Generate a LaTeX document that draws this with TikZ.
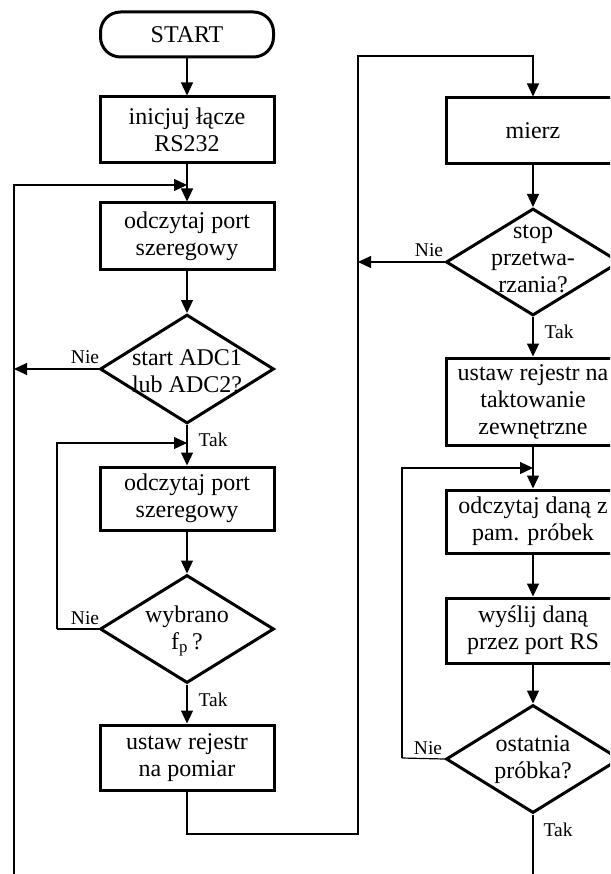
\documentclass[tikz,border=0pt]{standalone}
\usepackage{fontspec}
\setmainfont{Liberation Serif}
\usetikzlibrary{shapes.geometric,arrows.meta}
\begin{document}
\begin{tikzpicture}[x=1pt,y=-1pt,
  txt/.style={font=\fontsize{24}{27}\selectfont},
  box/.style={txt, draw, line width=3pt, minimum width=174pt, inner sep=0pt, align=center},
  term/.style={box, rounded corners=20pt, minimum width=173pt},
  dec/.style={draw, diamond, line width=3pt, minimum width=174pt, minimum height=108pt, inner sep=0pt},
  dtext/.style={txt, align=center, inner sep=0pt},
  conn/.style={line width=1.2pt},
  arr/.style={conn, -{Triangle[length=13pt,width=12pt]}},
  lab/.style={font=\fontsize{19.5}{21}\selectfont, inner sep=0pt}
]
\useasboundingbox (0,0) rectangle (610,874);
\clip (0,0) rectangle (610,874);
\fill[white] (0,0) rectangle (610,874);

% left column
\node[term, minimum height=45pt] (start) at (187,34.5) {START};
\node[box, minimum height=66pt] (init) at (187,130) {inicjuj łącze\\RS232};
\node[box, minimum height=67pt] (read1) at (187,236.5) {odczytaj port\\szeregowy};
\node[dec, minimum height=109pt] (d1) at (187,369) {};
\node[dtext] (d1t) at (187,371) {start ADC1\\lub ADC2?};
\node[box, minimum height=63pt] (read2) at (187,498.5) {odczytaj port\\szeregowy};
\node[dec] (d2) at (187,629) {};
\node[dtext] (d2t) at (187,631) {wybrano\\f\textsubscript{p}\,?};
\node[box, minimum height=65pt] (setm) at (187,757.5) {ustaw rejestr\\na pomiar};

% right column
\node[box, minimum height=66pt] (mierz) at (533,131) {mierz};
\node[dec, minimum height=107pt] (d3) at (533,262) {};
\node[dtext] (d3t) at (533,259) {stop\\przetwa-\\rzania?};
\node[box, minimum height=87pt] (ext) at (533,401.5) {ustaw rejestr na\\taktowanie\\zewnętrzne};
\node[box, minimum height=63pt] (readd) at (533,521.5) {odczytaj daną z\\pam. próbek};
\node[box, minimum height=65pt] (send) at (533,630.5) {wyślij daną\\przez port RS};
\node[dec] (d4) at (533,759) {};
\node[dtext] (d4t) at (533,760) {ostatnia\\próbka?};

% labels
\node[lab] (l1) at (85,357) {Nie};
\node[lab] (l2) at (213,440) {Tak};
\node[lab] (l3) at (85,618) {Nie};
\node[lab] (l4) at (213,700) {Tak};
\node[lab] (l5) at (429,250) {Nie};
\node[lab] (l6) at (559,332) {Tak};
\node[lab] (l7) at (428,748) {Nie};
\node[lab] (l8) at (558,830) {Tak};

% coordinates
\coordinate (m1) at (187,185);
\coordinate (m2) at (187,443);
\coordinate (m3) at (533,468);
\coordinate (bl) at (14,874);
\coordinate (tl) at (14,185);
\coordinate (n1) at (14,369);
\coordinate (a2) at (57,629);
\coordinate (b2) at (57,443);
\coordinate (r1) at (187,834);
\coordinate (r2) at (358,834);
\coordinate (r3) at (358,56);
\coordinate (r4) at (533,56);
\coordinate (n3) at (358,262);
\coordinate (a4) at (402,758);
\coordinate (b4) at (402,468);
\coordinate (e4) at (533,874);

% connectors
\draw[arr] (start) -- (init);
\draw[arr] (init) -- (read1);
\draw[arr] (bl) -- (tl) -- (m1);
\draw[arr] (read1) -- (d1.north);
\draw[arr] (d1.west) -- (n1);
\draw[arr] (d1.south) -- (read2);
\draw[arr] (a2) -- (b2) -- (m2);
\draw[conn] (d2.west) -- (a2);
\draw[arr] (read2) -- (d2.north);
\draw[arr] (d2.south) -- (setm);
\draw[arr] (setm.south) -- (r1) -- (r2) -- (r3) -- (r4) -- (mierz.north);
\draw[arr] (mierz) -- (d3.north);
\draw[arr] (d3.west) -- (n3);
\draw[arr] (d3.south) -- (ext);
\draw[arr] (ext) -- (readd);
\draw[arr] (readd) -- (send);
\draw[arr] (send) -- (d4.north);
\draw[conn] (d4.west) -- (a4);
\draw[arr] (a4) -- (b4) -- (m3);
\draw[conn] (d4.south) -- (e4);
\end{tikzpicture}
\end{document}
